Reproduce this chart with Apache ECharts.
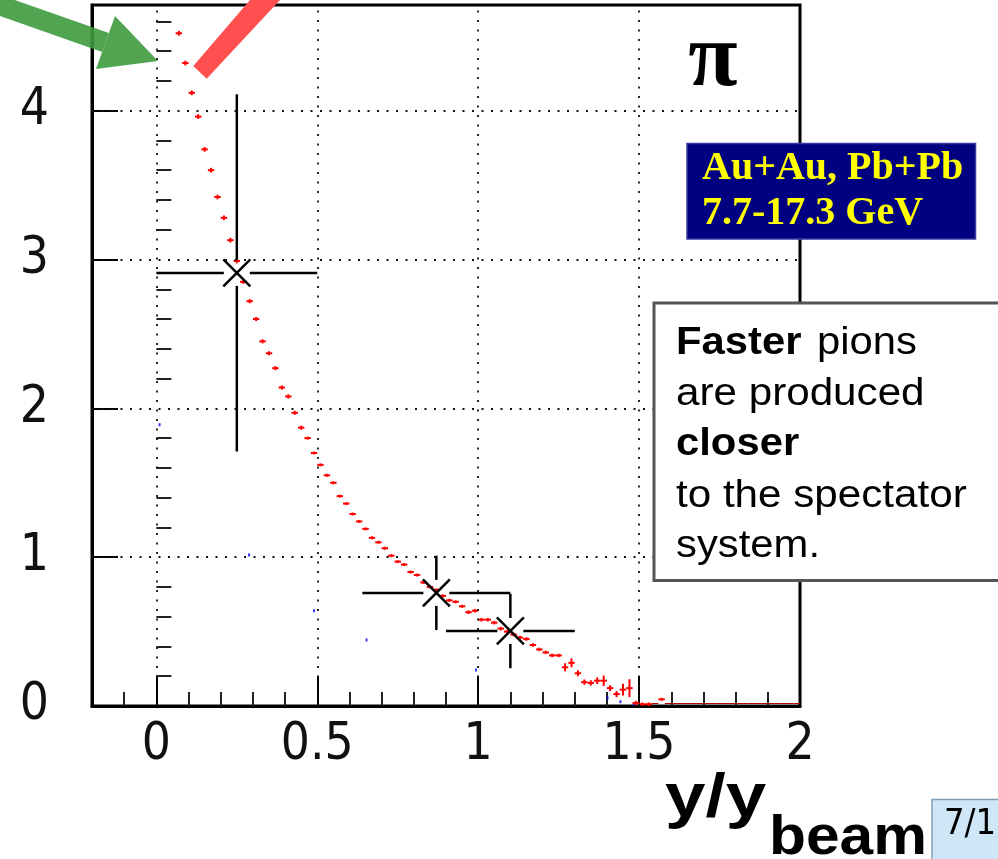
<!DOCTYPE html>
<html><head><meta charset="utf-8">
<script src="https://cdn.jsdelivr.net/npm/echarts@6/dist/echarts.min.js"></script>
<style>html,body{margin:0;padding:0;background:#fff}#c{width:998px;height:859px}</style>
</head><body><div id="c"></div>
<script>
// ---- data ----
const redX = [0.07,0.09,0.11,0.13,0.15,0.17,0.19,0.21,0.23,0.25,0.27,0.29,0.31,0.33,0.35,0.37,0.39,0.41,0.43,0.45,
  0.47,0.49,0.51,0.53,0.55,0.57,0.59,0.61,0.63,0.65,0.67,0.69,0.71,0.73,0.75,0.77,0.79,0.81,0.83,0.85,
  0.87,0.89,0.91,0.93,0.95,0.97,0.99,1.01,1.03,1.05,1.07,1.09,1.11,1.13,1.15,1.17,1.19,1.21,1.23,1.25,
  1.27,1.29,1.31,1.33,1.35,1.37,1.39,1.41,1.43,1.45,1.47,1.49,1.51,1.53,1.55,1.57,
  1.59,1.61,1.63,1.65,1.67,1.69,1.71,1.73,1.75,1.77,1.79,1.81,1.83,1.85,1.87,1.89,1.91,1.93,1.95,1.97,1.99];
const redY = [4.52,4.32,4.12,3.96,3.74,3.60,3.42,3.28,3.13,2.99,2.85,2.72,2.60,2.45,2.37,2.27,2.14,2.08,1.97,1.87,
  1.80,1.70,1.62,1.55,1.50,1.41,1.36,1.29,1.24,1.19,1.13,1.10,1.06,1.01,0.97,0.95,0.90,0.88,0.83,0.80,
  0.78,0.74,0.71,0.70,0.67,0.63,0.64,0.58,0.58,0.56,0.52,0.50,0.48,0.46,0.45,0.41,0.38,0.36,0.34,0.34,
  0.26,0.29,0.22,0.16,0.155,0.17,0.17,0.12,0.08,0.11,0.12,0.02,0.012,0.012,0,0.045,
  0,0,0,0,0,0,0,0,0,0,0,0,0,0,0,0,0,0,0,0,0];
const redErr = [0.016,0.016,0.016,0.016,0.016,0.016,0.016,0.016,0.016,0.016,0.014,0.014,0.014,0.014,0.014,0.014,0.014,0.014,0.014,0.014,
  0.01,0.01,0.01,0.01,0.01,0.01,0.01,0.01,0.01,0.01,0.01,0.01,0.01,0.01,0.01,0.01,0.01,0.01,0.01,0.01,
  0.01,0.01,0.01,0.01,0.01,0.012,0.012,0.012,0.012,0.012,0.012,0.012,0.012,0.012,0.012,0.012,0.012,0.012,0.012,0.012,
  0.027,0.03,0.02,0.018,0.018,0.022,0.035,0.02,0.02,0.04,0.06,0.015,0.012,0.012,0,0.01,
  0,0,0,0,0,0,0,0,0,0,0,0,0,0,0,0,0,0,0,0,0];
const blueX = [0.01,0.288,0.49,0.653,0.993,1.402,1.442,1.483];
const blueY = [1.89,1.015,0.64,0.444,0.242,0.054,0.029,0.013];
const blackX = [0.25,0.87,1.10];
const blackY = [2.91,0.76,0.504];
const blackXErr = [0.25,0.23,0.20];
const blackYErr = [1.20,0.25,0.25];
const xMajorTicks = [0,0.5,1,1.5,2];
const xMinorTicks = [-0.1,0.1,0.2,0.3,0.4,0.6,0.7,0.8,0.9,1.1,1.2,1.3,1.4,1.6,1.7,1.8,1.9];
const yMajorTicks = [0,1,2,3,4];
const yMinorTicks = [0.2,0.4,0.6,0.8,1.2,1.4,1.6,1.8,2.2,2.4,2.6,2.8,3.2,3.4,3.6,3.8,4.2,4.4,4.6];
const xGridLines = [0,0.5,1,1.5];
const yGridLines = [1,2,3,4];
const X_MIN = -0.2, X_MAX = 2.0, Y_MIN = 0, Y_MAX = 4.71;
const HALF_BIN = 0.01;

// ---- build ----
const redData = redX.map((x,i)=>[x, redY[i], redErr[i]]);
const blueData = blueX.map((x,i)=>[x, blueY[i]]);
const blackData = blackX.map((x,i)=>[x, blackY[i], blackXErr[i], blackYErr[i]]);

const LABEL_FONT = '"Liberation Sans Narrow","DejaVu Sans Condensed","Liberation Sans",sans-serif';
const chart = echarts.init(document.getElementById('c'), null, {renderer:'canvas'});

function renderRed(params, api){
  const x=api.value(0), y=api.value(1), e=api.value(2);
  const l=api.coord([x-HALF_BIN,y]), r=api.coord([x+HALF_BIN,y]);
  const empty = (y===0 && e===0);
  const st = empty ? {stroke:'#b00000', lineWidth:1} : {stroke:'#ff0000', lineWidth:2};
  const dy = empty ? -2.5 : 0;
  const ch=[{type:'line', shape:{x1:l[0],y1:l[1]+dy,x2:r[0],y2:r[1]+dy}, style:st}];
  if(e>0){
    const t=api.coord([x,y+e]), b=api.coord([x,y-e]);
    ch.push({type:'line', shape:{x1:t[0],y1:t[1],x2:b[0],y2:b[1]}, style:st});
  }
  return {type:'group', children:ch};
}
function renderBlack(params, api){
  const x=api.value(0), y=api.value(1), ex=api.value(2), ey=api.value(3);
  const c=api.coord([x,y]);
  const l=api.coord([x-ex,y]), r=api.coord([x+ex,y]), t=api.coord([x,y+ey]), b=api.coord([x,y-ey]);
  const g=13, m=13.5;
  const st={stroke:'#000', lineWidth:2.5};
  const L=(x1,y1,x2,y2)=>({type:'line', shape:{x1,y1,x2,y2}, style:st});
  return {type:'group', children:[
    L(l[0],c[1],c[0]-g,c[1]), L(c[0]+g,c[1],r[0],c[1]),
    L(c[0],t[1],c[0],c[1]-g), L(c[0],c[1]+g,c[0],b[1]),
    L(c[0]-m,c[1]-m,c[0]+m,c[1]+m), L(c[0]-m,c[1]+m,c[0]+m,c[1]-m)
  ]};
}

const gridLineData = xGridLines.map(v=>({xAxis:v})).concat(yGridLines.map(v=>({yAxis:v})));

const option = {
  animation:false,
  backgroundColor:'#fff',
  grid:{left:92, top:5, right:198, bottom:153, show:true, borderColor:'#000', borderWidth:3, backgroundColor:'transparent'},
  xAxis:[
    {type:'value', min:X_MIN, max:X_MAX, position:'bottom',
     axisLine:{show:true, onZero:false, lineStyle:{color:'#000', width:3}},
     axisTick:{show:true, inside:true, length:30, customValues:xMajorTicks, lineStyle:{color:'#000', width:2}},
     axisLabel:{show:true, customValues:xMajorTicks, margin:14, color:'#111', fontSize:51, fontFamily:LABEL_FONT},
     splitLine:{show:false}},
    {type:'value', min:X_MIN, max:X_MAX, position:'bottom',
     axisLine:{show:false},
     axisTick:{show:true, inside:true, length:14, customValues:xMinorTicks, lineStyle:{color:'#222', width:2}},
     axisLabel:{show:false}, splitLine:{show:false}}
  ],
  yAxis:[
    {type:'value', min:Y_MIN, max:Y_MAX, position:'left',
     axisLine:{show:true, onZero:false, lineStyle:{color:'#000', width:3}},
     axisTick:{show:true, inside:true, length:26, customValues:yMajorTicks, lineStyle:{color:'#000', width:2}},
     axisLabel:{show:true, customValues:yMajorTicks, margin:43, color:'#111', fontSize:51, fontFamily:LABEL_FONT},
     splitLine:{show:false}},
    {type:'value', min:Y_MIN, max:Y_MAX, position:'left',
     axisLine:{show:false},
     axisTick:{show:true, inside:true, length:15, customValues:yMinorTicks, lineStyle:{color:'#222', width:2}},
     axisLabel:{show:false}, splitLine:{show:false}}
  ],
  series:[
    {type:'scatter', data:[], z:1, silent:true,
     markLine:{silent:true, symbol:['none','none'], label:{show:false},
       lineStyle:{color:'#111', width:1.8, type:[2,7.5]}, data:gridLineData, animation:false}},
    {type:'scatter', data:blueData, symbol:'rect', symbolSize:[2,3], itemStyle:{color:'#0000ff'}, z:2, silent:true},
    {type:'custom', data:redData, renderItem:renderRed, encode:{x:0,y:1}, z:3, silent:true},
    {type:'custom', data:blackData, renderItem:renderBlack, encode:{x:0,y:1}, z:4, silent:true}
  ],
  graphic:[
    // red band
    {type:'polygon', z:100, shape:{points:[[193.3,66],[206.7,78.7],[289.3,-10],[258.6,-10]]}, style:{fill:'#ff4f4f'}},
    // green arrow shaft + head
    {type:'polygon', z:101, shape:{points:[[-53.3,-2.8],[102.2,51.9],[108.8,33.1],[-46.7,-21.6]]}, style:{fill:'rgba(62,155,62,0.9)'}},
    {type:'polygon', z:101, shape:{points:[[115,16],[158,61],[96,69]]}, style:{fill:'rgba(62,155,62,0.9)'}},
    // pi
    {type:'text', z:100, x:713, y:62, style:{text:'\u03c0', fontSize:90, fontFamily:'"Liberation Serif","DejaVu Serif",serif', fontWeight:'bold', fill:'#000', align:'center', verticalAlign:'middle'}},
    // blue box
    {type:'rect', z:100, shape:{x:687, y:143.5, width:288.5, height:95.5}, style:{fill:'#000080', stroke:'#3a3aa0', lineWidth:1.5}},
    {type:'text', z:101, x:702, y:168.2, style:{text:'Au+Au, Pb+Pb', fontSize:40, fontWeight:'bold', fontFamily:'"Liberation Serif","Times New Roman",serif', fill:'#ffff00', align:'left', verticalAlign:'middle'}},
    {type:'text', z:101, x:702, y:213.2, style:{text:'7.7-17.3 GeV', fontSize:40, fontWeight:'bold', fontFamily:'"Liberation Serif","Times New Roman",serif', fill:'#ffff00', align:'left', verticalAlign:'middle'}},
    // annotation box
    {type:'rect', z:100, shape:{x:654, y:303, width:400, height:277.5}, style:{fill:'#fff', stroke:'#555', lineWidth:3}},
    {type:'text', z:101, x:676, y:343.5, scaleX:1.1, style:{text:'Faster', fontSize:38, fontWeight:'bold', fontFamily:'"Liberation Sans",Arial,sans-serif', fill:'#000', align:'left', verticalAlign:'middle'}},
    {type:'text', z:101, x:817, y:343.5, scaleX:1.1, style:{text:'pions', fontSize:38, fontFamily:'"Liberation Sans",Arial,sans-serif', fill:'#000', align:'left', verticalAlign:'middle'}},
    {type:'text', z:101, x:676, y:394.8, scaleX:1.11, style:{text:'are produced', fontSize:38, fontFamily:'"Liberation Sans",Arial,sans-serif', fill:'#000', align:'left', verticalAlign:'middle'}},
    {type:'text', z:101, x:676, y:444.8, scaleX:1.1, style:{text:'closer', fontSize:38, fontWeight:'bold', fontFamily:'"Liberation Sans",Arial,sans-serif', fill:'#000', align:'left', verticalAlign:'middle'}},
    {type:'text', z:101, x:676, y:496.8, scaleX:1.11, style:{text:'to the spectator', fontSize:38, fontFamily:'"Liberation Sans",Arial,sans-serif', fill:'#000', align:'left', verticalAlign:'middle'}},
    {type:'text', z:101, x:676, y:546.8, scaleX:1.1, style:{text:'system.', fontSize:38, fontFamily:'"Liberation Sans",Arial,sans-serif', fill:'#000', align:'left', verticalAlign:'middle'}},
    // axis title
    {type:'text', z:101, x:665, y:799, scaleX:1.3, scaleY:1.08, style:{text:'y/y', fontSize:56, fontWeight:'bold', fontFamily:'"Liberation Sans",Arial,sans-serif', fill:'#000', align:'left', verticalAlign:'middle'}},
    {type:'text', z:101, x:769, y:839, scaleX:1.08, style:{text:'beam', fontSize:56, fontWeight:'bold', fontFamily:'"Liberation Sans",Arial,sans-serif', fill:'#000', align:'left', verticalAlign:'middle'}},
    // page number box
    {type:'rect', z:100, shape:{x:932, y:799.5, width:90, height:80}, style:{fill:'#cfe6f6', stroke:'#7f9fb8', lineWidth:1.5}},
    {type:'text', z:101, x:944, y:825, style:{text:'7/18', fontSize:36, fontFamily:LABEL_FONT, fill:'#000', align:'left', verticalAlign:'middle'}}
  ]
};
chart.setOption(option);
</script>
</body></html>
